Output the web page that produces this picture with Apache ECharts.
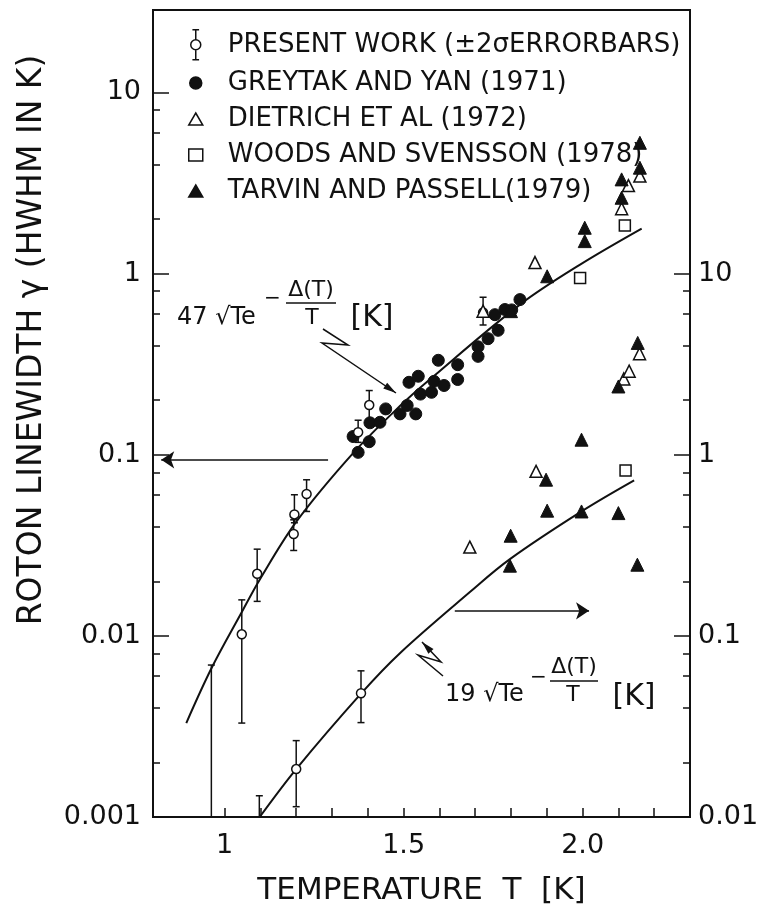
<!DOCTYPE html>
<html>
<head>
<meta charset="utf-8">
<script src="https://cdn.jsdelivr.net/npm/echarts@6/dist/echarts.min.js"></script>
<style>html,body{margin:0;background:#fff}#chart{width:757px;height:908px}</style>
</head>
<body>
<div id="chart"></div>
<script>
// values. T in K, linewidth in K.
// left-axis series use the left scale, right-axis series the right scale (10x left)
const presentLeft = [ // [T, gamma, low, high]
  [1.048, 0.0102, 0.0033, 0.0158],
  [1.091, 0.0220, 0.0155, 0.0301],
  [1.193, 0.0365, 0.0296, 0.0437],
  [1.195, 0.0468, 0.0421, 0.0601],
  [1.229, 0.0607, 0.0486, 0.0727],
  [1.373, 0.133, 0.117, 0.155],
  [1.404, 0.188, 0.156, 0.226],
  [1.722, 0.61, 0.52, 0.74]
]
const presentLeftBarOnly = [[0.963, 0.0005, 0.0069]] // point itself below the axis
const presentRight = [
  [1.200, 0.0184, 0.0114, 0.0264],
  [1.381, 0.0482, 0.0332, 0.0641]
]
const presentRightBarOnly = [[1.097, 0.005, 0.0131]]

const greytak = [
  [1.359, 0.126], [1.373, 0.103], [1.404, 0.118], [1.406, 0.150], [1.434, 0.151],
  [1.450, 0.179], [1.490, 0.168], [1.510, 0.187], [1.515, 0.251], [1.534, 0.168],
  [1.541, 0.271], [1.547, 0.216], [1.578, 0.221], [1.585, 0.254], [1.597, 0.332],
  [1.613, 0.241], [1.651, 0.314], [1.651, 0.260], [1.708, 0.394], [1.708, 0.349],
  [1.736, 0.437], [1.755, 0.593], [1.764, 0.486], [1.783, 0.633], [1.802, 0.630],
  [1.825, 0.718]
]
const dietrichLeft = [[1.722, 0.62], [1.867, 1.15], [2.109, 2.28], [2.128, 3.06], [2.160, 3.45]]
const dietrichRight = [[1.685, 0.309], [1.870, 0.809], [2.115, 2.62], [2.130, 2.89], [2.159, 3.61]]
const woodsLeft = [[1.993, 0.946], [2.118, 1.84]]
const woodsRight = [[2.120, 0.819]]
const tarvinLeft = [
  [1.800, 0.62], [1.901, 0.966], [2.006, 1.51], [2.006, 1.79],
  [2.109, 2.62], [2.109, 3.31], [2.160, 3.84], [2.160, 5.27]
]
const tarvinRight = [
  [1.797, 0.244], [1.799, 0.357], [1.898, 0.728], [1.901, 0.491], [1.997, 0.486],
  [1.997, 1.21], [2.100, 0.476], [2.100, 2.38], [2.153, 0.247], [2.154, 4.14]
]
// the two drawn curves (47 and 19 sqrt(T) exp(-D/T)), read point by point
const curveLeft = [
  [0.893, 0.0033], [0.963, 0.0066], [1.047, 0.0134], [1.098, 0.0204], [1.201, 0.0428],
  [1.359, 0.102], [1.489, 0.185], [1.573, 0.26], [1.825, 0.674], [1.993, 1.12], [2.165, 1.77]
]
const curveRight = [
  [1.098, 0.0100], [1.200, 0.0184], [1.381, 0.048], [1.489, 0.080], [1.686, 0.175],
  [1.797, 0.265], [1.997, 0.486], [2.144, 0.721]
]
const arrowLeft = [[1.289, 0.0937], [0.823, 0.0937]]
const arrowRight = [[1.643, 0.1375], [2.018, 0.1375]]

// axes
const xTicks = [1.0, 1.1, 1.2, 1.3, 1.4, 1.5, 1.6, 1.7, 1.8, 1.9, 2.0, 2.1, 2.2]
const xLabelValues = [1.0, 1.5, 2.0]
const xLabelText = ['1', '1.5', '2.0']
const yMajorLeft = [0.001, 0.01, 0.1, 1, 10]
const yLabelLeft = ['0.001', '0.01', '0.1', '1', '10']
const yMajorRight = [0.01, 0.1, 1, 10]
const yLabelRight = ['0.01', '0.1', '1', '10']
const yMinorLeft = [0.002, 0.004, 0.006, 0.008, 0.02, 0.04, 0.06, 0.08, 0.2, 0.4, 0.6, 0.8, 2, 4, 6, 8]
const yMinorRight = [0.02, 0.04, 0.06, 0.08, 0.2, 0.4, 0.6, 0.8, 2, 4, 6, 8]
const yRangeLeft = [0.001, 28.5]
const yRangeRight = [0.01, 285]

const legendNames = [
  'PRESENT WORK (±2σERRORBARS)',
  'GREYTAK AND YAN (1971)',
  'DIETRICH ET AL (1972)',
  'WOODS AND SVENSSON (1978)',
  'TARVIN AND PASSELL(1979)'
]

const lg = Math.log10
const pts = arr => arr.map(d => [d[0], lg(d[1])])
const bars = arr => arr.map(d => [d[0], lg(d[d.length - 2]), lg(d[d.length - 1])])
const FONT = 'DejaVu Sans'
const INK = '#111'

const chart = echarts.init(document.getElementById('chart'))

function labelFor(values, texts) {
  return v => {
    const i = values.findIndex(m => Math.abs(m - v) < 1e-6)
    return i < 0 ? '' : texts[i]
  }
}

function yAxisDef(pos, range, ticks, len, labels) {
  return {
    type: 'value', position: pos,
    min: lg(range[0]), max: lg(range[1]),
    splitLine: { show: false },
    axisLine: { show: !!labels, onZero: false, lineStyle: { color: INK, width: 2 } },
    axisTick: { show: true, inside: true, length: len, customValues: ticks.map(lg), lineStyle: { color: INK, width: 1.5 } },
    axisLabel: labels ? {
      show: true, customValues: ticks.map(lg), margin: pos === 'left' ? 12 : 8,
      fontFamily: FONT, fontSize: 27, color: INK,
      formatter: labelFor(ticks.map(lg), labels)
    } : { show: false }
  }
}

function errorSeries(data, axis) {
  return {
    type: 'custom', yAxisIndex: axis, z: 2, clip: true, silent: true,
    data: data,
    encode: { x: 0, y: [1, 2] },
    renderItem: (params, api) => {
      const lo = api.coord([api.value(0), api.value(1)])
      const hi = api.coord([api.value(0), api.value(2)])
      const w = 3.5
      const st = { stroke: INK, lineWidth: 1.5 }
      return {
        type: 'group', children: [
          { type: 'line', shape: { x1: hi[0], y1: hi[1], x2: lo[0], y2: lo[1] }, style: st },
          { type: 'line', shape: { x1: hi[0] - w, y1: hi[1], x2: hi[0] + w, y2: hi[1] }, style: st },
          { type: 'line', shape: { x1: lo[0] - w, y1: lo[1], x2: lo[0] + w, y2: lo[1] }, style: st }
        ]
      }
    }
  }
}

const openStyle = { color: '#fff', borderColor: INK, borderWidth: 1.5, opacity: 1 }
const filledStyle = { color: INK, borderColor: INK, borderWidth: 1, opacity: 1 }

function scatter(name, data, axis, symbol, size, style) {
  return { name, type: 'scatter', yAxisIndex: axis, z: 3, symbol, symbolSize: size, itemStyle: style, data: pts(data) }
}

function curve(data, axis, arrow) {
  return {
    type: 'line', yAxisIndex: axis, z: 1, data: pts(data), showSymbol: false, symbol: 'none',
    smooth: 0.35, clip: true, silent: true,
    lineStyle: { color: INK, width: 2 },
    markLine: {
      silent: true, symbol: ['none', 'arrow'], symbolSize: 13, animation: false,
      label: { show: false },
      lineStyle: { color: INK, width: 1.5, type: 'solid' },
      data: [[{ coord: [arrow[0][0], lg(arrow[0][1])] }, { coord: [arrow[1][0], lg(arrow[1][1])] }]]
    }
  }
}

// zig-zag pointers and formula annotations (pixel layout)
function arrowHead(p, q, len, half) {
  const dx = q[0] - p[0], dy = q[1] - p[1], L = Math.hypot(dx, dy)
  const ux = dx / L, uy = dy / L
  const bx = q[0] - ux * len, by = q[1] - uy * len
  return [[q[0], q[1]], [bx - uy * half, by + ux * half], [bx + uy * half, by - ux * half]]
}
const zig1 = [[323, 329], [348, 345], [322, 343], [396, 393]]
const zig2 = [[443, 676], [418, 655], [441, 662], [422, 642]]

function txt(x, y, text, size, align) {
  return { type: 'text', x, y, silent: true, style: { text, fontFamily: FONT, fontSize: size, fill: INK, align: align || 'left', verticalAlign: 'middle' } }
}
function seg(x1, y1, x2, y2, w) {
  return { type: 'line', silent: true, shape: { x1, y1, x2, y2 }, style: { stroke: INK, lineWidth: w || 1.5 } }
}
function pointer(z) {
  return [
    { type: 'polyline', silent: true, shape: { points: z }, style: { stroke: INK, lineWidth: 1.5, fill: null } },
    { type: 'polygon', silent: true, shape: { points: arrowHead(z[z.length - 2], z[z.length - 1], 13, 3.5) }, style: { fill: INK } }
  ]
}

const graphics = [
  { type: 'text', x: 32, y: 340, rotation: Math.PI / 2, silent: true,
    style: { text: 'ROTON LINEWIDTH γ (HWHM IN K)', fontFamily: FONT, fontSize: 33, fill: INK, align: 'center', verticalAlign: 'middle' } },
  txt(177, 318, '47 √Te', 24),
  txt(264, 299, '−', 20),
  txt(311, 290, 'Δ(T)', 22, 'center'),
  seg(286, 303, 336, 303),
  txt(312, 318, 'T', 22, 'center'),
  txt(372, 318, '[K]', 30, 'center'),
  txt(445, 695, '19 √Te', 24),
  txt(530, 678, '−', 20),
  txt(574, 667, 'Δ(T)', 22, 'center'),
  seg(550, 681, 598, 681),
  txt(573, 695, 'T', 22, 'center'),
  txt(634, 697, '[K]', 30, 'center'),
  ...pointer(zig1),
  ...pointer(zig2)
]

const presentIcon = 'path://M2 0H10M6 0V12M6 24V36M2 36H10M6 12A6 6 0 1 1 6 24A6 6 0 1 1 6 12Z'
const legendText = { fontFamily: FONT, fontSize: 26, color: INK }

chart.setOption({
  animation: false,
  backgroundColor: '#fff',
  textStyle: { fontFamily: FONT },
  grid: { left: 153, right: 67, top: 10, bottom: 91, show: true, borderColor: INK, borderWidth: 2, outerBoundsMode: 'none' },
  legend: [
    {
      data: [{ name: legendNames[0], icon: presentIcon }],
      orient: 'vertical', left: 185, top: 24, itemWidth: 10, itemHeight: 36,
      selectedMode: false,
      itemStyle: { borderColor: INK, borderWidth: 1.5 },
      textStyle: Object.assign({ padding: [0, 0, 0, 22] }, legendText)
    },
    {
      data: [
        { name: legendNames[1], icon: 'circle' },
        { name: legendNames[2], icon: 'triangle' },
        { name: legendNames[3], icon: 'rect' },
        { name: legendNames[4], icon: 'triangle' }
      ],
      orient: 'vertical', left: 183, top: 65, itemWidth: 14, itemHeight: 12, itemGap: 10,
      selectedMode: false,
      itemStyle: { borderColor: INK, borderWidth: 1.5 },
      textStyle: Object.assign({ padding: [0, 0, 0, 20] }, legendText)
    }
  ],
  xAxis: {
    type: 'value', min: 0.8, max: 2.3,
    name: 'TEMPERATURE  T  [K]', nameLocation: 'middle', nameGap: 58,
    nameTextStyle: { fontFamily: FONT, fontSize: 31, color: INK },
    splitLine: { show: false },
    axisLine: { onZero: false, lineStyle: { color: INK, width: 2 } },
    axisTick: { inside: true, length: 9, customValues: xTicks, lineStyle: { color: INK, width: 1.5 } },
    axisLabel: { customValues: xLabelValues, margin: 15, fontFamily: FONT, fontSize: 27, color: INK, formatter: labelFor(xLabelValues, xLabelText) }
  },
  yAxis: [
    yAxisDef('left', yRangeLeft, yMajorLeft, 16, yLabelLeft),
    yAxisDef('right', yRangeRight, yMajorRight, 16, yLabelRight),
    yAxisDef('left', yRangeLeft, yMinorLeft, 7, null),
    yAxisDef('right', yRangeRight, yMinorRight, 7, null)
  ],
  graphic: { elements: graphics },
  series: [
    curve(curveLeft, 0, arrowLeft),
    curve(curveRight, 1, arrowRight),
    errorSeries(bars(presentLeft).concat(bars(presentLeftBarOnly)), 0),
    errorSeries(bars(presentRight).concat(bars(presentRightBarOnly)), 1),
    scatter(legendNames[1], greytak, 0, 'circle', 12, filledStyle),
    scatter(legendNames[0], presentLeft, 0, 'circle', 9, openStyle),
    scatter(legendNames[0], presentRight, 1, 'circle', 9, openStyle),
    scatter(legendNames[2], dietrichLeft, 0, 'triangle', 12, openStyle),
    scatter(legendNames[2], dietrichRight, 1, 'triangle', 12, openStyle),
    scatter(legendNames[3], woodsLeft, 0, 'rect', 11, openStyle),
    scatter(legendNames[3], woodsRight, 1, 'rect', 11, openStyle),
    scatter(legendNames[4], tarvinLeft, 0, 'triangle', 13, filledStyle),
    scatter(legendNames[4], tarvinRight, 1, 'triangle', 13, filledStyle)
  ]
})
</script>
</body>
</html>
